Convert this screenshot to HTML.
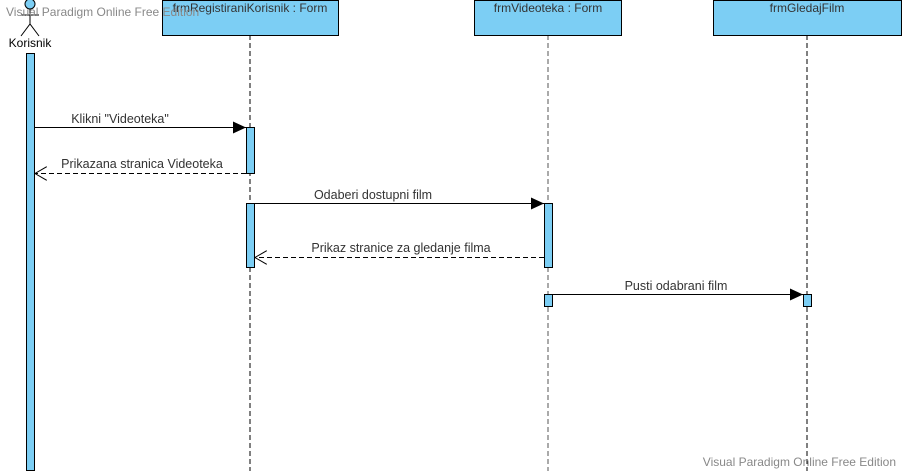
<!DOCTYPE html>
<html><head><meta charset="utf-8"><style>body{margin:0;background:#fff}svg{display:block}text{font-family:"Liberation Sans",sans-serif}</style></head><body>
<svg width="902" height="471" xmlns="http://www.w3.org/2000/svg">
<defs>
<marker id="f" markerWidth="14" markerHeight="12" refX="13" refY="6" orient="auto" markerUnits="userSpaceOnUse"><path d="M0,0 L13,6 L0,12 Z" fill="#000"/></marker>
<marker id="o" markerWidth="14" markerHeight="14" refX="12" refY="7" orient="auto" markerUnits="userSpaceOnUse"><path d="M0,0 L12,7 L0,14" fill="none" stroke="#000"/></marker>
</defs>
<g stroke="#000" stroke-dasharray="5,3" stroke-width="1">
<line x1="250" y1="35" x2="250" y2="471"/>
<line x1="548" y1="35" x2="548" y2="471" stroke="#555"/>
<line x1="807" y1="35" x2="807" y2="471"/>
</g>
<g fill="#7ccef4" stroke="#000">
<rect x="162.5" y="0.5" width="176" height="35"/>
<rect x="474.5" y="0.5" width="147" height="35"/>
<rect x="713.5" y="0.5" width="188" height="35"/>
<rect x="26.5" y="53.5" width="8" height="417"/>
<rect x="246.5" y="127.5" width="8" height="46"/>
<rect x="246.5" y="203.5" width="8" height="64"/>
<rect x="544.5" y="203.5" width="8" height="64"/>
<rect x="544.5" y="294.5" width="8" height="12"/>
<rect x="803.5" y="294.5" width="8" height="12"/>
<circle cx="30" cy="4" r="5"/>
</g>
<g stroke="#000" fill="none">
<line x1="30" y1="9" x2="30" y2="24"/><line x1="21" y1="15" x2="39" y2="15"/>
<path d="M21,36 L30,24 L39,36"/>
</g>
<g font-size="12" fill="#333" text-anchor="middle">
<text x="250" y="12">frmRegistiraniKorisnik : Form</text>
<text x="548" y="12">frmVideoteka : Form</text>
<text x="807" y="12">frmGledajFilm</text>
<text x="30" y="47" fill="#000">Korisnik</text>
</g>
<text x="6" y="16" font-size="12" fill="#888">Visual Paradigm Online Free Edition</text>
<text x="896" y="466" font-size="12" fill="#888" text-anchor="end">Visual Paradigm Online Free Edition</text>
<g stroke="#000">
<line x1="35" y1="127.5" x2="246" y2="127.5" marker-end="url(#f)"/>
<line x1="246" y1="173.5" x2="35" y2="173.5" stroke-dasharray="5,3" marker-end="url(#o)"/>
<line x1="255" y1="203.5" x2="544" y2="203.5" marker-end="url(#f)"/>
<line x1="544" y1="257.5" x2="255" y2="257.5" stroke-dasharray="5,3" marker-end="url(#o)"/>
<line x1="553" y1="294.5" x2="803" y2="294.5" marker-end="url(#f)"/>
</g>
<g font-size="12.5" fill="#333" text-anchor="middle">
<text x="120" y="123">Klikni "Videoteka"</text>
<text x="142" y="168">Prikazana stranica Videoteka</text>
<text x="373" y="199">Odaberi dostupni film</text>
<text x="401" y="252">Prikaz stranice za gledanje filma</text>
<text x="676" y="290">Pusti odabrani film</text>
</g>
</svg>
</body></html>
